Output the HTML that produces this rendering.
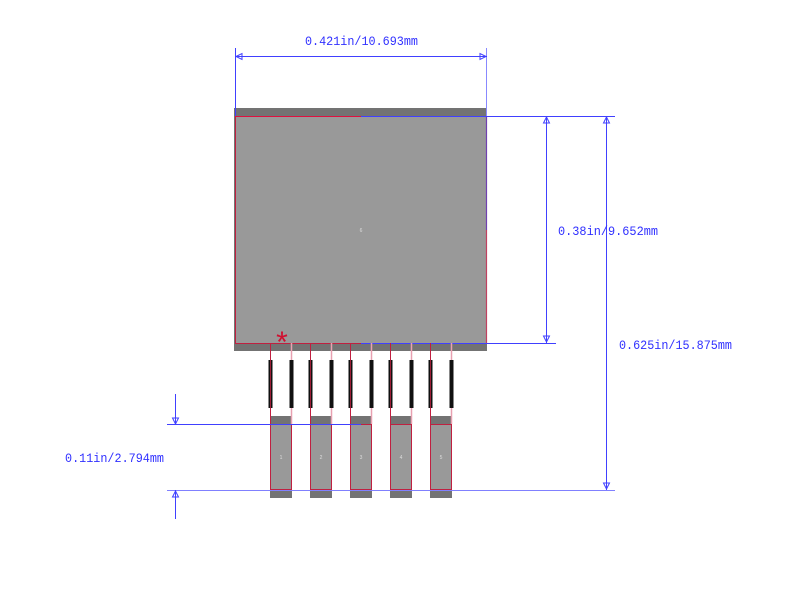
<!DOCTYPE html>
<html><head><meta charset="utf-8"><style>html,body{margin:0;padding:0;background:#fff}svg{display:block}</style></head>
<body>
<svg width="800" height="609" viewBox="0 0 800 609" xmlns="http://www.w3.org/2000/svg">
<rect x="0" y="0" width="800" height="609" fill="#fff"/>
<rect x="234" y="108" width="253" height="243" fill="#737373"/>
<rect x="235" y="116" width="251" height="227" fill="#999"/>
<line x1="235.5" y1="116" x2="235.5" y2="343" stroke="#c02040" stroke-width="1"/>
<line x1="235" y1="343.5" x2="361" y2="343.5" stroke="#c02040" stroke-width="1"/>
<line x1="361" y1="343.5" x2="487" y2="343.5" stroke="#4040ff" stroke-width="1"/>
<line x1="235" y1="116.5" x2="361" y2="116.5" stroke="#e01040" stroke-width="1"/>
<line x1="486.5" y1="116" x2="486.5" y2="230" stroke="#7040b0" stroke-width="1.2"/>
<line x1="486.5" y1="230" x2="486.5" y2="343" stroke="#c04060" stroke-width="1.2"/>
<text x="361" y="232" font-family="Liberation Sans,sans-serif" font-size="5" fill="#ddd" text-anchor="middle">6</text>
<text x="282" y="352" font-family="Liberation Sans,sans-serif" font-size="30" fill="#d01030" text-anchor="middle">*</text>
<g>
<rect x="270" y="416" width="22" height="82" fill="#737373"/><rect x="271" y="424" width="20" height="66" fill="#999"/>
<rect x="310" y="416" width="22" height="82" fill="#737373"/><rect x="311" y="424" width="20" height="66" fill="#999"/>
<rect x="350" y="416" width="22" height="82" fill="#737373"/><rect x="351" y="424" width="20" height="66" fill="#999"/>
<rect x="390" y="416" width="22" height="82" fill="#737373"/><rect x="391" y="424" width="20" height="66" fill="#999"/>
<rect x="430" y="416" width="22" height="82" fill="#737373"/><rect x="431" y="424" width="20" height="66" fill="#999"/>
</g>
<g stroke="#c02040" stroke-width="1" fill="none">
<rect x="270.5" y="424.5" width="21" height="65"/><rect x="310.5" y="424.5" width="21" height="65"/><rect x="350.5" y="424.5" width="21" height="65"/><rect x="390.5" y="424.5" width="21" height="65"/><rect x="430.5" y="424.5" width="21" height="65"/>
</g>
<g stroke="#c02040" stroke-width="1">
<line x1="270.5" y1="343" x2="270.5" y2="424"/><line x1="310.5" y1="343" x2="310.5" y2="424"/><line x1="350.5" y1="343" x2="350.5" y2="424"/><line x1="390.5" y1="343" x2="390.5" y2="424"/><line x1="430.5" y1="343" x2="430.5" y2="424"/>
</g>
<g stroke="#e8a0b0" stroke-width="1.5">
<line x1="291.5" y1="343" x2="291.5" y2="424"/><line x1="331.5" y1="343" x2="331.5" y2="424"/><line x1="371.5" y1="343" x2="371.5" y2="424"/><line x1="411.5" y1="343" x2="411.5" y2="424"/><line x1="451.5" y1="343" x2="451.5" y2="424"/>
</g>
<g fill="#111">
<rect x="268.5" y="360" width="4" height="48"/><rect x="289.5" y="360" width="4" height="48"/>
<rect x="308.5" y="360" width="4" height="48"/><rect x="329.5" y="360" width="4" height="48"/>
<rect x="348.5" y="360" width="4" height="48"/><rect x="369.5" y="360" width="4" height="48"/>
<rect x="388.5" y="360" width="4" height="48"/><rect x="409.5" y="360" width="4" height="48"/>
<rect x="428.5" y="360" width="4" height="48"/><rect x="449.5" y="360" width="4" height="48"/>
</g>
<g stroke="#c02040" stroke-width="0.8">
<line x1="270.5" y1="360" x2="270.5" y2="408"/><line x1="310.5" y1="360" x2="310.5" y2="408"/><line x1="350.5" y1="360" x2="350.5" y2="408"/><line x1="390.5" y1="360" x2="390.5" y2="408"/><line x1="430.5" y1="360" x2="430.5" y2="408"/>
</g>
<g font-family="Liberation Sans,sans-serif" font-size="5" fill="#ddd" text-anchor="middle">
<text x="281" y="459">1</text><text x="321" y="459">2</text><text x="361" y="459">3</text><text x="401" y="459">4</text><text x="441" y="459">5</text>
</g>
<g stroke="#4040ff" stroke-width="1" fill="none">
<line x1="235.5" y1="48" x2="235.5" y2="116"/>
<line x1="486.5" y1="48" x2="486.5" y2="116" stroke="#8888ff"/>
<line x1="235" y1="56.5" x2="487" y2="56.5"/>
<path d="M236 56.5 L242 53.5 L242 59.5 Z"/>
<path d="M486 56.5 L480 53.5 L480 59.5 Z"/>
<line x1="361" y1="116.5" x2="615" y2="116.5"/>
<line x1="487" y1="343.5" x2="556" y2="343.5"/>
<line x1="546.5" y1="116" x2="546.5" y2="343"/>
<path d="M546.5 117 L543.5 123 L549.5 123 Z"/>
<path d="M546.5 342 L543.5 336 L549.5 336 Z"/>
<line x1="606.5" y1="116" x2="606.5" y2="490"/>
<path d="M606.5 117 L603.5 123 L609.5 123 Z"/>
<path d="M606.5 489 L603.5 483 L609.5 483 Z"/>
<line x1="167" y1="424.5" x2="361" y2="424.5"/>
<line x1="167" y1="490.5" x2="615" y2="490.5" stroke="#8080ff"/>
<line x1="175.5" y1="394" x2="175.5" y2="424"/>
<path d="M175.5 424 L172.5 418 L178.5 418 Z"/>
<line x1="175.5" y1="490" x2="175.5" y2="519"/>
<path d="M175.5 491 L172.5 497 L178.5 497 Z"/>
</g>
<g font-family="Liberation Mono,monospace" font-size="13" fill="#3030ff">
<text x="305" y="45" textLength="113" lengthAdjust="spacingAndGlyphs">0.421in/10.693mm</text>
<text x="558" y="235" textLength="100" lengthAdjust="spacingAndGlyphs">0.38in/9.652mm</text>
<text x="619" y="349" textLength="113" lengthAdjust="spacingAndGlyphs">0.625in/15.875mm</text>
<text x="65" y="462" textLength="99" lengthAdjust="spacingAndGlyphs">0.11in/2.794mm</text>
</g>
</svg>
</body></html>
